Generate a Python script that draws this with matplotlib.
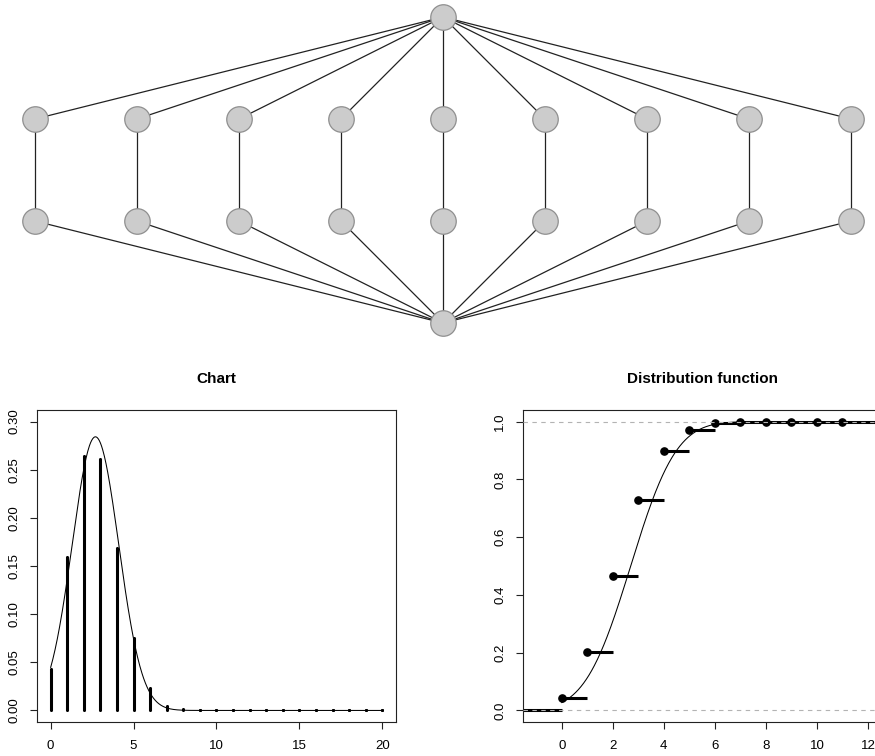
import numpy as np
import matplotlib
matplotlib.use("Agg")
import matplotlib.pyplot as plt

plt.rcParams['font.family'] = ['Liberation Sans', 'DejaVu Sans']

# ---------------- data ----------------
# graph: node ids with (column, level) layout
node_ids = ["top"] + [f"a{i}" for i in range(9)] + [f"b{i}" for i in range(9)] + ["bottom"]
node_cols = [0] + list(range(-4, 5)) + list(range(-4, 5)) + [0]
node_levels = [0] + [1] * 9 + [2] * 9 + [3]
edges = ([("top", f"a{i}") for i in range(9)] +
         [(f"a{i}", f"b{i}") for i in range(9)] +
         [(f"b{i}", "bottom") for i in range(9)])

# probability chart
pmf_x = list(range(0, 21))
pmf_y = [0.043, 0.159, 0.264, 0.261, 0.169, 0.075, 0.023, 0.005, 0.001,
         0.0, 0.0, 0.0, 0.0, 0.0, 0.0, 0.0, 0.0, 0.0, 0.0, 0.0, 0.0]
norm_mean = 2.7
norm_sd = 1.404

# distribution function
cdf_x = list(range(0, 12))
cdf_y = [0.043, 0.202, 0.466, 0.728, 0.897, 0.972, 0.995, 0.999, 1.0, 1.0, 1.0, 1.0]

left_ticks = [0, 5, 10, 15, 20]
left_yticks = [0.00, 0.05, 0.10, 0.15, 0.20, 0.25, 0.30]
right_ticks = [0, 2, 4, 6, 8, 10, 12]
right_yticks = [0.0, 0.2, 0.4, 0.6, 0.8, 1.0]

# ---------------- figure ----------------
W, H = 875, 756
fig = plt.figure(figsize=(W / 100, H / 100), dpi=100)

# graph axes (top 340 px)
gax = fig.add_axes([0, (H - 340) / H, 1, 340 / H])
gax.set_xlim((0 - 443) / 102, (875 - 443) / 102)
gax.set_ylim((340 - 17) / 102, (0 - 17) / 102)
gax.axis('off')
pos = {n: (c, l) for n, c, l in zip(node_ids, node_cols, node_levels)}
for a, b in edges:
    xa, ya = pos[a]
    xb, yb = pos[b]
    gax.plot([xa, xb], [ya, yb], color='#222222', lw=0.9, zorder=1, solid_capstyle='butt')
gax.scatter(node_cols, node_levels, s=(25.5 * 0.72) ** 2, facecolor='#cccccc',
            edgecolor='#8f8f8f', linewidths=0.9, zorder=2)

FS = 9.5
TFS = 11


def style_axes(ax):
    for sp in ax.spines.values():
        sp.set_linewidth(0.8)
        sp.set_color('#222222')
    ax.tick_params(direction='out', length=5, width=0.8, colors='#222222',
                   labelsize=FS, labelcolor='black')
    ax.tick_params(axis='x', pad=8)
    ax.tick_params(axis='y', pad=7)


def rotate_ylabels(ax):
    for lab in ax.get_yticklabels():
        lab.set_rotation(90)
        lab.set_va('center')
        lab.set_ha('right')
        lab.set_rotation_mode('default')


# left axes
axL = fig.add_axes([37.4 / W, (H - 722) / H, 358.2 / W, 312 / H])
axL.set_xlim(-0.8, 20.8)
axL.set_ylim(-0.012, 0.312)
axL.vlines(pmf_x, 0, pmf_y, color='black', lw=2.2, zorder=2)
axL.plot(pmf_x, [0] * len(pmf_x), 'o', color='black', ms=2.2, mew=0, zorder=2)
axL.plot(pmf_x, pmf_y, 'o', color='black', ms=2.2, mew=0, zorder=2)
xs = np.linspace(0, 20, 600)
dens = np.exp(-0.5 * ((xs - norm_mean) / norm_sd) ** 2) / (np.sqrt(2 * np.pi) * norm_sd)
axL.plot(xs, dens, color='black', lw=0.75, zorder=3)
axL.set_xticks(left_ticks)
axL.set_xticklabels([str(t) for t in left_ticks])
axL.set_yticks(left_yticks)
axL.set_yticklabels([f"{t:.2f}" for t in left_yticks])
style_axes(axL)
rotate_ylabels(axL)
axL.text(0.5, 1 + 31 / 312, "Chart", transform=axL.transAxes, ha='center', va='center',
         fontsize=TFS, fontweight='bold')

# right axes
axR = fig.add_axes([523 / W, (H - 722) / H, 358.2 / W, 312 / H])
xl0, xl1 = -1.52, 12.52
axR.set_xlim(xl0, xl1)
axR.set_ylim(-0.04, 1.04)
step_ends = cdf_x[1:] + [xl1]
axR.hlines([0.0], [xl0], [cdf_x[0]], color='black', lw=2.2, zorder=2)
axR.hlines(cdf_y, cdf_x, step_ends, color='black', lw=2.2, zorder=2)
axR.plot(cdf_x, cdf_y, 'o', color='black', ms=5.2, zorder=3)
xs2 = np.linspace(0, 12.5, 600)
from math import erf
cdfn = np.array([0.5 * (1 + erf((v - norm_mean) / (norm_sd * np.sqrt(2)))) for v in xs2])
axR.plot(xs2, cdfn, color='black', lw=0.75, zorder=3)
for yv in (0.0, 1.0):
    axR.axhline(yv, color='#b3b3b3', lw=0.8, linestyle=(0, (4, 4)), zorder=4)
axR.set_xticks(right_ticks)
axR.set_xticklabels([str(t) for t in right_ticks])
axR.set_yticks(right_yticks)
axR.set_yticklabels([f"{t:.1f}" for t in right_yticks])
style_axes(axR)
rotate_ylabels(axR)
axR.text(0.5, 1 + 31 / 312, "Distribution function", transform=axR.transAxes, ha='center',
         va='center', fontsize=TFS, fontweight='bold')

fig.savefig("out.png", dpi=100)
